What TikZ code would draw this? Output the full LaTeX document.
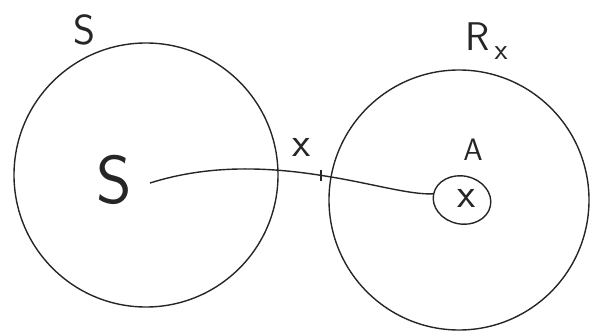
\documentclass[tikz,border=0pt]{standalone}
\usetikzlibrary{shapes.geometric}
\begin{document}
\begin{tikzpicture}[x=1pt,y=-1pt,
  pen/.style={draw=black!85,line width=1.4pt},
  lbl/.style={inner sep=0pt,text=black!85,font=\sffamily}]
\useasboundingbox (0,0) rectangle (591,334);
% circles
\node[circle,pen,minimum size=264pt,inner sep=0pt] (L) at (146,175) {};
\node[circle,pen,minimum size=260pt,inner sep=0pt] (R) at (459,200) {};
% small ellipse with x
\node[ellipse,pen,minimum width=58pt,minimum height=48pt,inner sep=0pt,rotate=-12] (E) at (462,200) {};
\node[lbl,font=\sffamily\fontsize{42}{42}\selectfont] (ex) at (467,198) {x};
% labels
\node[lbl,font=\sffamily\fontsize{42}{42}\selectfont] (s1) at (84,30) {S};
\node[lbl,font=\sffamily\fontsize{68}{68}\selectfont] (s2) at (114,180) {S};
\node[lbl,font=\sffamily\fontsize{42}{42}\selectfont] (xl) at (302,147) {x};
\node[lbl,font=\sffamily\fontsize{31}{31}\selectfont] (A) at (473,150) {A};
\node[lbl,font=\sffamily\fontsize{40}{40}\selectfont] (Rx) at (478,37) {R};
\node[lbl,font=\sffamily\fontsize{30}{30}\selectfont] (Rxs) at (501,53) {x};
% curve
\coordinate (start) at (150,183);
\coordinate (mid) at (325,176);
\draw[pen] (start) .. controls (210,164) and (270,167) .. (mid)
  .. controls (370,183) and (410,195) .. (E.west);
% tick
\coordinate (t1) at (321,170);
\coordinate (t2) at (321,181);
\draw[pen] (t1) -- (t2);
\end{tikzpicture}
\end{document}
